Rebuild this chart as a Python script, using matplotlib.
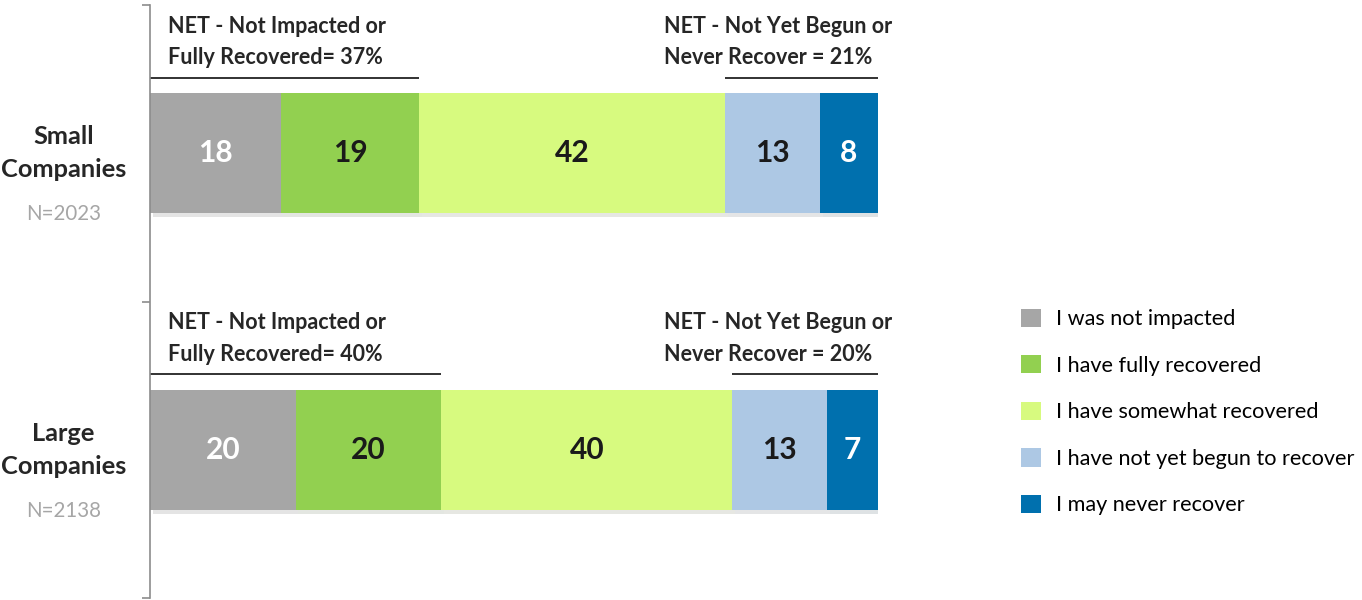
import numpy as np
import matplotlib
matplotlib.use('Agg')
import matplotlib.pyplot as plt
import matplotlib.patheffects as pe
from matplotlib.patches import Patch

plt.rcParams['font.family'] = ['Lato', 'DejaVu Sans']

groups = ['Small\nCompanies', 'Large\nCompanies']
sample_sizes = ['N=2023', 'N=2138']
series = ['I was not impacted', 'I have fully recovered', 'I have somewhat recovered',
          'I have not yet begun to recover', 'I may never recover']
not_impacted = [18, 20]
fully_recovered = [19, 20]
somewhat_recovered = [42, 40]
not_begun = [13, 13]
never_recover = [8, 7]
net_positive = [37, 40]
net_negative = [21, 20]

colors = ['#A6A6A6', '#92D050', '#D7FA7F', '#ADC8E4', '#0070AE']
label_colors = ['white', '#1a1a1a', '#1a1a1a', '#1a1a1a', 'white']

fig = plt.figure(figsize=(13.62, 6.0), dpi=100)
ax = fig.add_axes([150 / 1362, 2 / 600, 728 / 1362, 593 / 600])

values = [not_impacted, fully_recovered, somewhat_recovered, not_begun, never_recover]
ypos = np.array([0.5, 1.5])
left = np.zeros(2)
for vals, col, lc, name in zip(values, colors, label_colors, series):
    bars = ax.barh(ypos, vals, left=left, height=0.405, color=col, label=name)
    for b in bars:
        b.set_path_effects([pe.SimplePatchShadow(offset=(2, -3), alpha=0.13), pe.Normal()])
    ax.bar_label(bars, label_type='center', color=lc, fontsize=21.5, fontweight='bold')
    left = left + np.array(vals)

# NET lines + texts
for i in range(2):
    y0 = i
    ax.plot([0, net_positive[i]], [y0 + 0.245, y0 + 0.245], color='#222222', lw=1.3,
            solid_capstyle='butt', clip_on=False)
    ax.plot([100 - net_negative[i], 100], [y0 + 0.245, y0 + 0.245], color='#222222', lw=1.3,
            solid_capstyle='butt', clip_on=False)
    ax.text(2.5, y0 + 0.125, 'NET - Not Impacted or\nFully Recovered= %d%%' % net_positive[i],
            fontsize=15.5, fontweight='bold', color='#262626', va='center', ha='left',
            linespacing=1.6)
    ax.text(70.6, y0 + 0.125, 'NET - Not Yet Begun or\nNever Recover = %d%%' % net_negative[i],
            fontsize=15.5, fontweight='bold', color='#262626', va='center', ha='left',
            linespacing=1.6)

# category labels
for i in range(2):
    ax.text(-11.9, ypos[i], groups[i], ha='center', va='center',
            fontsize=18.3, fontweight='bold', color='#262626', linespacing=1.5)
    ax.text(-11.9, ypos[i] + 0.205, sample_sizes[i], ha='center', va='center',
            fontsize=14.8, color='#A6A6A6')

ax.set_xlim(0, 100)
ax.set_ylim(2, 0)
ax.set_yticks([0, 1, 2])
ax.set_yticklabels([])
ax.set_xticks([])
for s in ['top', 'right', 'bottom']:
    ax.spines[s].set_visible(False)
ax.spines['left'].set_color('#8C8C8C')
ax.spines['left'].set_linewidth(1.2)
ax.tick_params(axis='y', direction='out', length=6, width=1.2, color='#8C8C8C')

handles = [Patch(facecolor=c, edgecolor='none') for c in colors]
fig.legend(handles, series, loc='center left', bbox_to_anchor=(1021 / 1362, 1 - 412 / 600),
           frameon=False, fontsize=15.6, handlelength=0.92, handleheight=0.92,
           handletextpad=0.68, labelspacing=1.2, borderpad=0, borderaxespad=0)

fig.savefig('out.png', dpi=100, facecolor='white')
